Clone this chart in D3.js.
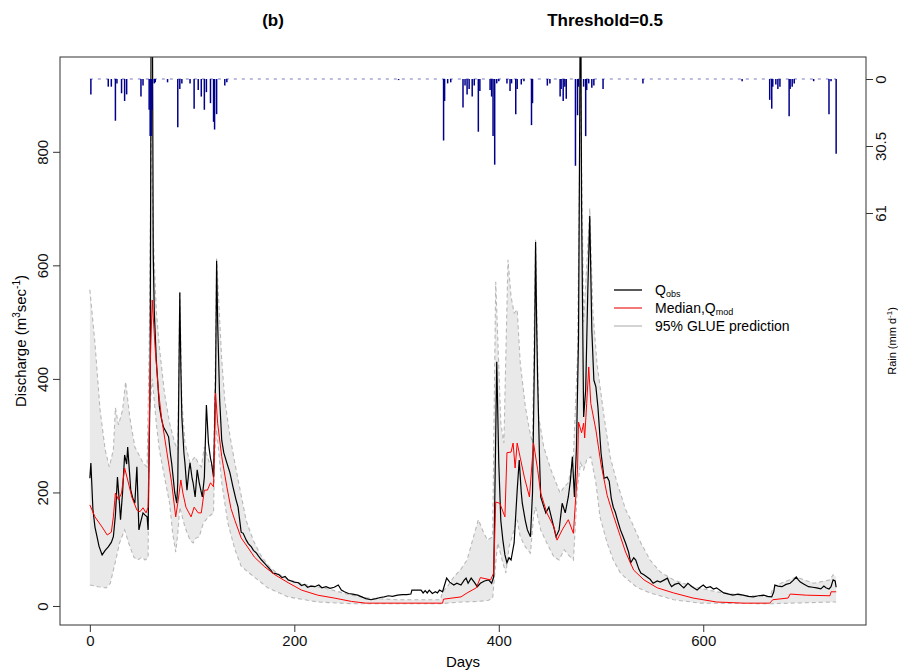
<!DOCTYPE html>
<html>
<head>
<meta charset="utf-8">
<script src="https://cdn.jsdelivr.net/npm/d3@7"></script>
<style>
  body { margin: 0; background: #fff; }
  svg { font-family: "Liberation Sans", Arial, sans-serif; }
</style>
</head>
<body>
<div id="chart"></div>
<script>
// chart data, [day, value]
const qObs = [
  [0,225],[1,252],[3,170],[5,139],[7,122],[9,105],[12,90],[15,98],[18,104],[21,112],[23,122],[25,160],
  [27,227],[29,180],[30,152],[32,200],[34,266],[36,250],[37,280],[39,230],[40,204],[42,190],[44,181],
  [46,245],[48,134],[50,150],[52,164],[54,160],[56,157],[57,134],[59,400],[60,1100],[61,1150],[62,620],
  [63,520],[65,433],[68,351],[70,330],[72,315],[75,305],[77,298],[79,265],[80,252],[83,200],[85,181],
  [86,217],[88,552],[89,420],[90,333],[92,270],[93,252],[95,204],[97,240],[98,252],[100,225],[101,217],
  [103,192],[105,240],[107,217],[110,192],[112,227],[114,354],[116,287],[118,260],[119,252],[121,227],
  [123,400],[124,608],[125,500],[127,363],[129,292],[131,270],[134,252],[137,235],[140,210],[143,187],
  [145,174],[148,130],[150,128],[153,116],[155,110],[158,104],[160,98],[163,93],[165,88],[168,81],
  [171,75],[174,69],[177,63],[179,58],[182,57],[185,55],[188,50],[191,52],[194,46],[197,44],[200,42],
  [204,41],[207,36],[210,38],[213,33],[216,35],[220,34],[224,37],[227,32],[231,34],[235,31],[239,33],
  [243,37],[246,28],[249,25],[253,22],[257,21],[262,19],[266,16],[270,13],[275,11],[280,13],[284,15],
  [288,16],[292,18],[296,17],[301,19],[306,20],[310,20],[314,21],[315,28],[320,28],[324,28],[326,23],
  [328,27],[330,23],[332,28],[335,22],[338,25],[340,23],[342,28],[345,25],[349,49],[352,42],[356,37],
  [359,40],[363,37],[366,45],[368,49],[370,40],[373,49],[376,42],[379,34],[382,40],[386,44],[390,46],
  [393,40],[395,51],[397,300],[398,430],[400,252],[402,150],[404,116],[406,90],[408,76],[410,85],
  [412,81],[415,111],[418,204],[420,257],[422,200],[423,181],[426,150],[428,134],[431,122],[433,200],
  [435,450],[436,641],[437,500],[438,400],[440,250],[441,192],[444,175],[446,164],[449,174],[452,152],
  [456,122],[459,134],[462,181],[465,164],[468,192],[470,220],[472,263],[474,192],[476,280],[478,474],
  [479,800],[480,1180],[481,700],[483,333],[485,380],[487,550],[489,687],[491,486],[493,398],[495,386],
  [497,350],[500,270],[503,225],[506,227],[508,220],[510,190],[512,174],[514,165],[516,152],[519,134],
  [521,125],[524,111],[527,95],[529,76],[532,85],[534,81],[537,65],[539,58],[542,55],[545,51],[548,47],
  [551,40],[555,44],[558,42],[562,46],[565,49],[567,40],[569,34],[572,38],[576,40],[579,35],[581,32],
  [585,40],[589,34],[594,28],[597,33],[600,37],[603,32],[607,34],[610,30],[613,32],[617,27],[620,23],
  [625,21],[629,19],[634,21],[639,19],[644,17],[649,16],[654,18],[659,19],[663,17],[667,16],[669,25],
  [670,37],[673,35],[677,34],[681,38],[685,40],[688,45],[691,51],[693,46],[695,42],[699,38],[703,34],
  [707,33],[711,32],[715,30],[718,35],[720,32],[723,30],[725,34],[727,46],[729,44],[730,33]
];

const qMedian = [
  [0,178],[5,157],[12,139],[17,125],[21,130],[23,157],[25,199],[28,187],[31,199],[34,243],[37,222],
  [41,192],[46,169],[49,166],[52,173],[55,164],[57,174],[59,421],[61,539],[64,451],[67,381],[70,333],
  [75,275],[80,217],[84,157],[86,181],[89,222],[91,199],[94,174],[99,157],[102,174],[106,164],[109,164],
  [112,204],[115,204],[118,217],[121,210],[123,375],[125,322],[129,263],[134,210],[138,172],[142,150],
  [148,120],[155,102],[161,86],[171,69],[181,55],[194,41],[207,28],[223,19],[239,14],[256,8],[270,5],
  [345,5],[346,12],[363,16],[369,23],[378,32],[382,50],[392,46],[395,58],[397,183],[401,181],[406,157],
  [408,270],[412,271],[414,287],[416,243],[418,287],[421,261],[425,227],[430,192],[433,263],[434,287],
  [438,240],[441,199],[447,164],[454,139],[457,116],[462,134],[468,152],[473,128],[477,240],[478,324],
  [481,305],[483,322],[484,296],[486,357],[488,421],[490,357],[495,310],[500,250],[506,195],[512,160],
  [519,122],[524,95],[532,63],[542,46],[555,32],[571,23],[590,14],[613,7],[640,5],[665,5],[668,11],
  [683,14],[685,21],[701,19],[724,18],[725,25],[730,25]
];

const qUpper = [
  [0,557],[5,463],[10,345],[15,275],[19,245],[23,275],[25,349],[28,319],[32,345],[35,395],[39,333],
  [44,280],[49,263],[52,252],[56,245],[58,450],[60,835],[62,650],[65,520],[68,456],[73,375],[78,322],
  [83,287],[86,275],[88,555],[90,360],[93,287],[98,252],[103,263],[106,252],[109,245],[112,280],
  [117,252],[121,245],[123,450],[124,612],[126,539],[129,433],[132,363],[137,300],[142,250],[148,195],
  [153,150],[160,115],[167,90],[175,70],[183,58],[195,46],[210,38],[233,30],[256,19],[272,14],[300,11],
  [343,11],[345,25],[350,35],[356,51],[363,65],[369,81],[375,120],[380,152],[385,130],[389,116],
  [394,122],[397,571],[402,322],[405,287],[409,610],[412,545],[415,516],[418,522],[421,428],[426,351],
  [430,310],[433,287],[436,645],[439,333],[444,280],[451,240],[456,217],[460,199],[464,210],[468,217],
  [473,263],[477,439],[480,930],[483,500],[486,600],[489,700],[492,520],[496,428],[503,333],[509,262],
  [516,215],[519,199],[524,170],[529,152],[539,111],[548,81],[558,60],[571,46],[590,34],[613,25],
  [636,19],[665,16],[668,30],[672,37],[691,51],[708,40],[724,46],[727,55],[730,51]
];

const qLower = [
  [0,37],[8,34],[16,32],[20,40],[23,63],[26,86],[29,111],[34,134],[38,111],[43,86],[47,81],[51,86],
  [54,81],[57,85],[58,333],[61,400],[65,322],[68,275],[73,227],[78,181],[81,128],[84,95],[86,128],
  [88,174],[93,139],[98,116],[101,111],[104,120],[107,122],[111,146],[116,157],[121,164],[122,263],
  [124,310],[129,217],[135,146],[142,99],[148,70],[158,55],[174,32],[194,16],[223,7],[256,4],[343,4],
  [363,7],[380,8],[390,10],[394,14],[397,76],[399,111],[404,76],[407,58],[410,104],[415,134],[418,152],
  [421,122],[426,104],[431,93],[434,157],[436,174],[441,134],[447,111],[454,86],[459,81],[464,99],
  [468,90],[473,81],[477,210],[480,252],[483,240],[486,257],[490,263],[495,217],[499,157],[506,111],
  [512,81],[519,58],[527,45],[535,33],[548,23],[571,11],[597,5],[665,4],[727,7],[730,7]
];

// daily rain, mm
const rain = [
  [1,7],[18,3.5],[21,3.5],[25,19],[26.5,2],[31,6.5],[34,10],[36,7],[50,8],[52,3],[58,14],[59,26],
  [60,26],[61,14],[63,2],[64,1.5],[76,1.5],[86,22],[88,4.5],[90,2],[98,2],[102,13.5],[106,5],[109,8],
  [112,14],[114,6],[118,11],[121,19.5],[122,23],[124,16],[132,3],[134,1.5],[302,0.5],[346,28],[347,10],
  [350,2],[353,1.5],[365,13],[367,3],[369,7],[371,4.5],[374,8],[376,3],[380,24],[381.5,5.5],[391.5,5],
  [393,8],[394.4,26],[396,39],[398,2],[400,1],[408,2],[411,5.5],[412.5,2],[416.6,16],[418,4.5],[422,2.5],
  [424.6,1],[432,21],[433,11],[447.5,3],[450,2],[460,8],[461,4.5],[463,10],[464.6,3.5],[466,9],
  [475,39.5],[477,16.5],[478,3.5],[483,3.5],[485,26],[486,5],[488,2],[491,4],[493,3],[502,4.5],[541,2],
  [638,1],[665,9.5],[667,13.5],[668,3.5],[671,2.5],[673,4.5],[675,3.5],[684,17],[685,4.5],[687,3.5],
  [689,2],[708,1],[723,16],[725,1],[730,34]
];

const dayTicks = [0, 200, 400, 600];
const flowTicks = [0, 200, 400, 600, 800];
const rainTicks = [0, 30.5, 61];
const legendItems = [
  { label: "Q", sub: "obs", color: "#5a5a5a" },
  { label: "Median,Q", sub: "mod", color: "#f47a7a" },
  { label: "95% GLUE prediction", sub: null, color: "#d4d4d4" }
];

const W = 898, H = 671;
const box = { left: 60, right: 866, top: 57, bottom: 625 };

const x = d3.scaleLinear().domain([-29.2, 759.2]).range([box.left, box.right]);
const y = d3.scaleLinear().domain([-33.5, 967]).range([box.bottom, box.top]);
const yRain = d3.scaleLinear().domain([0, 61]).range([79, 213]);

const svg = d3.select("#chart").append("svg")
  .attr("width", W)
  .attr("height", H);

svg.append("clipPath").attr("id", "plotClip")
  .append("rect")
  .attr("x", box.left).attr("y", box.top)
  .attr("width", box.right - box.left).attr("height", box.bottom - box.top);

const plot = svg.append("g").attr("clip-path", "url(#plotClip)");

const line = d3.line().x(d => x(d[0])).y(d => y(d[1]));

// uncertainty band: upper edge then lower edge backwards
const bandPts = qUpper.concat(qLower.slice().reverse());
plot.append("path")
  .attr("d", line(bandPts) + "Z")
  .attr("fill", "#e9e9e9")
  .attr("stroke", "none");

[qUpper, qLower].forEach(s => {
  plot.append("path")
    .attr("d", line(s))
    .attr("fill", "none")
    .attr("stroke", "#b8b8b8")
    .attr("stroke-width", 1.1)
    .attr("stroke-dasharray", "4,3");
});

plot.append("path")
  .attr("d", line(qObs))
  .attr("fill", "none")
  .attr("stroke", "#000")
  .attr("stroke-width", 1.2);

plot.append("path")
  .attr("d", line(qMedian))
  .attr("fill", "none")
  .attr("stroke", "#ff0000")
  .attr("stroke-width", 1);

// rain on an inverted axis from the top
plot.append("line")
  .attr("x1", x(0)).attr("x2", x(730))
  .attr("y1", yRain(0)).attr("y2", yRain(0))
  .attr("stroke", "#4040a8")
  .attr("stroke-opacity", 0.7)
  .attr("stroke-dasharray", "3,5");

plot.append("g")
  .selectAll("line")
  .data(rain)
  .join("line")
  .attr("x1", d => x(d[0])).attr("x2", d => x(d[0]))
  .attr("y1", yRain(0))
  .attr("y2", d => yRain(d[1]))
  .attr("stroke", "#00008b")
  .attr("stroke-width", 1.5);

// frame
svg.append("rect")
  .attr("x", box.left).attr("y", box.top)
  .attr("width", box.right - box.left).attr("height", box.bottom - box.top)
  .attr("fill", "none")
  .attr("stroke", "#333")
  .attr("stroke-width", 1);

// axes
svg.append("g")
  .attr("transform", `translate(0,${box.bottom})`)
  .call(d3.axisBottom(x).tickValues(dayTicks).tickSize(7).tickSizeOuter(0))
  .call(g => g.select(".domain").remove())
  .call(g => g.selectAll("line").attr("stroke", "#333"))
  .call(g => g.selectAll("text").attr("font-size", 15).attr("fill", "#111")
    .attr("font-family", "Liberation Sans, Arial, sans-serif"));

svg.append("g")
  .attr("transform", `translate(${box.left},0)`)
  .call(d3.axisLeft(y).tickValues(flowTicks).tickSize(7).tickSizeOuter(0))
  .call(g => g.select(".domain").remove())
  .call(g => g.selectAll("line").attr("stroke", "#333"))
  .call(g => g.selectAll("text")
    .attr("transform", "rotate(-90)")
    .attr("x", 0).attr("y", -12).attr("dy", 0)
    .attr("text-anchor", "middle")
    .attr("font-size", 15).attr("fill", "#111")
    .attr("font-family", "Liberation Sans, Arial, sans-serif"));

svg.append("g")
  .attr("transform", `translate(${box.right},0)`)
  .call(d3.axisRight(yRain).tickValues(rainTicks).tickFormat(d3.format("")).tickSize(7).tickSizeOuter(0))
  .call(g => g.select(".domain").remove())
  .call(g => g.selectAll("line").attr("stroke", "#333"))
  .call(g => g.selectAll("text")
    .attr("transform", "rotate(-90)")
    .attr("x", 0).attr("y", 20).attr("dy", 0)
    .attr("text-anchor", "middle")
    .attr("font-size", 15).attr("fill", "#111")
    .attr("font-family", "Liberation Sans, Arial, sans-serif"));

// titles and axis labels
svg.append("text")
  .attr("x", 273).attr("y", 26)
  .attr("text-anchor", "middle")
  .attr("font-size", 17).attr("font-weight", "bold")
  .text("(b)");

svg.append("text")
  .attr("x", 605).attr("y", 26)
  .attr("text-anchor", "middle")
  .attr("font-size", 17).attr("font-weight", "bold")
  .text("Threshold=0.5");

svg.append("text")
  .attr("x", (box.left + box.right) / 2).attr("y", 667)
  .attr("text-anchor", "middle")
  .attr("font-size", 15)
  .text("Days");

const yLab = svg.append("text")
  .attr("transform", `translate(26,${(box.top + box.bottom) / 2}) rotate(-90)`)
  .attr("text-anchor", "middle")
  .attr("font-size", 15);
yLab.append("tspan").text("Discharge (m");
yLab.append("tspan").attr("font-size", 10).attr("dy", -6).text("3");
yLab.append("tspan").attr("dy", 6).text("sec");
yLab.append("tspan").attr("font-size", 10).attr("dy", -6).text("-1");
yLab.append("tspan").attr("dy", 6).text(")");

const rLab = svg.append("text")
  .attr("transform", `translate(896,${(box.top + box.bottom) / 2}) rotate(-90)`)
  .attr("text-anchor", "middle")
  .attr("font-size", 11);
rLab.append("tspan").text("Rain (mm d");
rLab.append("tspan").attr("font-size", 8).attr("dy", -4).text("-1");
rLab.append("tspan").attr("dy", 4).text(")");

// legend
const legend = svg.append("g").attr("transform", "translate(614,290)");
const rows = legend.selectAll("g")
  .data(legendItems)
  .join("g")
  .attr("transform", (d, i) => `translate(0,${i * 18})`);
rows.append("line")
  .attr("x1", 0).attr("x2", 28)
  .attr("stroke", d => d.color)
  .attr("stroke-width", 2);
rows.each(function (d) {
  const t = d3.select(this).append("text")
    .attr("x", 41).attr("y", 5)
    .attr("font-size", 14);
  t.append("tspan").text(d.label);
  if (d.sub) t.append("tspan").attr("font-size", 9).attr("dy", 2).text(d.sub);
});
</script>
</body>
</html>
